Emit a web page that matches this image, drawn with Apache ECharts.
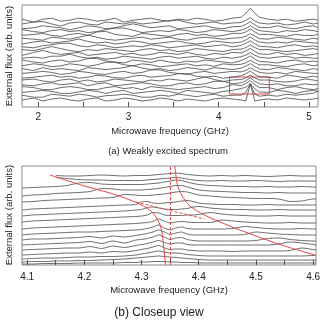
<!DOCTYPE html>
<html>
<head>
<meta charset="utf-8">
<script src="https://cdn.jsdelivr.net/npm/echarts@6/dist/echarts.min.js"></script>
<style>
  html, body { margin: 0; padding: 0; background: #fff; }
  #chart { width: 324px; height: 323px; }
</style>
</head>
<body>
<div id="chart"></div>
<script>
// ---- (a) weakly excited spectrum: frequency grid (GHz) ----
const freqA = [1.82, 1.95, 2.05, 2.15, 2.25, 2.35, 2.45, 2.55, 2.65, 2.75, 2.85, 2.95,
  3.05, 3.15, 3.25, 3.35, 3.45, 3.55, 3.65, 3.75, 3.85, 3.95, 4.05, 4.15, 4.25, 4.30,
  4.35, 4.40, 4.45, 4.55, 4.65, 4.75, 4.85, 4.95, 5.05, 5.1];

// flux offset of each trace (arb. units), bottom trace first
const fluxOffsetA = [7, 10.8, 14.6, 18.4, 22.2, 26, 29.8, 33.6, 37.4, 41.2, 45, 48.8,
  52.6, 56.4, 60.2, 64, 67.8, 71.6, 75.4, 79.2, 83, 86.8];

// response of each trace relative to its offset
const responseA = [
  [0,2,-1,1,2,0,-1,1,2,-1,0,2,1,-1,0,2,1,-1,1,0,-1,1,2,1, 0,-1,16,-1,0, 1,0,2,1,0,1,2],
  [1,-1,-1,2,1,0,2,1,-1,0.5,1,2,1,-1,-1,1,0,2,1,-0.5,1,2,0,1, 1,4,12,2,0, 1,0,2,1,2,3,5],
  [0,1,2,1,-1,-1,0.5,2,1,-1,1,2,-1,0,1,2,1,-1,2,1,0,-1,1,2, 4,5,9,3.5,0.5, 0,2,1,-1,1,2,1],
  [2,1,-1,-1,1,2,1,-1,-1,1,2,0,1,-1,2,1,0,-1,0,1,2,0,1,4, 3,5,8,4,1, 1,-1,1,2,0,-1,0],
  [0,-1,1,2,0,1,2,-1,1,2,-1,0,1,2,1,-1,-1,1,2,0,1,3.5,3.5,1, 2,4,7,3.5,1, 0,1,-1,-1,1,0,0.5],
  [1,2,0,-1,1,2,-0.5,1,-1,0,2,1,0,-1,1,0,2,1,0,2,4,1.5,-0.5,1, 1.5,3,6,3,1, 1,-0.5,-1,0,2,1,0],
  [-1,0,1,2,0,1,-1,0,2,1,-0.5,-1,1,2,0,1,1.5,3.5,3.5,1,0,1,-1,0, 1.5,3.5,6,3,0.5, 0,-1,2,1,-0.5,1,0],
  [0,1,2,1,-1,0,2,1,-0.5,-1,1,2,0,1,3.5,3.5,1,0,-1,1,2,0,1,2, 1.5,3,5.5,3,1, 0,1,-0.5,2,1,0,0],
  [1,-1,2,0,1,0,-1,2,1,0,1,2,4,1.5,0,1,-1,0,2,1,-0.5,2,1,0, 1.5,3.5,6,3,0.5, 0,2,1,0,-1,1,0],
  [0,2,1,-1,0,2,1,-0.5,1,3.5,3.5,1,0,2,1,-1,0,1,2,0,1,-0.5,2,1, 1.5,3,5.5,3,1, 1,0,-1,1,2,0,1],
  [2,0,-1,1,2,0,1,3.5,3.5,1,0,-1,2,1,-0.5,2,0,-1,1,0,2,1,0,-1, 1.5,3.5,6,3,0.5, 0,-1,1,2,0,1,0],
  [0,1,0,2,2,4,1.5,0,1,-1,0,2,1,0,-1,1,2,0,1,2,0,-1,1,0, 1.5,3,5.5,3,1, 0,1,2,0,1,0,0],
  [-1,2,4,1.5,0,1,2,-1,0,1,2,0,1,-1,0,2,1,0,2,0,-1,1,0,2, 1.5,3.5,6,3,0.5, 0,2,0,1,-1,0,1],
  [1,0,2,4,2,0,-1,1,0,2,1,0,-1,1,2,0,1,-1,0,2,1,0,-1,1, 1.5,3,5.5,3,1, 1,0,-1,0,1,2,1],
  [0,-1,1,2,3.5,3.5,1,0,2,1,-1,0,1,0,2,1,-1,0,1,2,0,1,2,0, 1.5,3.5,6,3,0.5, 0,-1,1,2,0,1,0],
  [-1,1,2,0,1,2,4,1.5,0,1,-1,0,2,1,-1,0,1,2,0,-1,0,2,1,0, 1,3,6,3,1, 0,1,0,2,1,0,0],
  [1,0,-1,2,1,0,2,4,2,0,-1,0,1,2,0,1,2,0,-1,1,2,1,0,1, 1.5,3,5.5,3,0.5, 0,2,1,0,-1,1,0],
  [0,1,2,0,-1,1,2,0,3.5,4,1,0,-1,2,1,0,-1,1,2,0,1,-1,0,2, 2,3.5,6.5,3.5,1, 1,0,-1,1,0,0,1],
  [2,0,-1,1,2,0,1,-1,0,2,3.5,3.5,1.5,-1,0,1,0,2,1,-1,0,2,1,0, 1.5,3,6,3,1, 0,-1,1,0,2,1,0],
  [-1,0,2,1,0,-2,0,2,1,-1,0,2,4,2,0,1,2,-1,0,1,2,0,-1,1, 1.5,3.5,6,3,0.5, 0,2,0,-1,1,2,0],
  [0,2,2.5,0,-2,1,2,0,-1,2,1,0,2,0,1,2,3.5,4,1.5,0,1,2,0,1, 1.5,3.5,6.5,3,1, 0,1,-1,0,2,0,1],
  [1,-2,1,2,-1,0,2,1,-1,0,2,-2,0,1,2,0,-1,1,0,2,1,-1,0,2, 3,7,12,7,3, 1,0,1,-1,0,1,0]
];

// closeup region marked in panel (a)
const closeupFreqRange = [4.12, 4.56];
const closeupFluxRange = [13, 30];

// ---- (b) closeup view ----
const freqB = [4.091, 4.11, 4.13, 4.15, 4.17, 4.19, 4.21, 4.23, 4.25, 4.27, 4.29, 4.30,
  4.31, 4.32, 4.33, 4.34, 4.35, 4.36, 4.37, 4.38, 4.39, 4.40, 4.42, 4.44, 4.46, 4.48,
  4.50, 4.52, 4.54, 4.56, 4.58, 4.60, 4.605];

// traces (arb. units), bottom trace first
const tracesB = [
  [1,1,1.5,1.5,1.5,2,2,2,2,2.5,2.5,3,3,3.5,3.5,3.5,3,3,2.5,2.5,2.5,2,2,2,2,2,2,2,2,2,2,2,2],
  [3,3.5,3.5,4,4,4.5,4.5,5,5.5,6,7,7.5,8,8.5,9,8.5,8,7.5,7,6.5,6,5.5,5,5,5,5,5,5,5,5,5,5,5],
  [6,6.5,7,7,7.5,8,8,8.5,8.5,9,10,11,12,13,14,13,12,12,11.5,10.5,10,9.5,9,9,9,9,9,9,9,9,9,9.5,9.5],
  [10,10.5,11,11.5,12,12,13,12,13.5,13,14.5,15.5,16.5,18,19.5,17,15.5,16,16,15,14.5,14,14,14,13.5,14,14,14,14,14.5,17,15.5,15],
  [15,15.5,16,16.5,17,17,18.5,16.5,19,17.5,19.5,20.5,21.5,23,24.5,22.5,21,22,22,20.5,20,20,20,20,20,20,20,20,21,23,22,20.5,20],
  [20,20.5,21,21.5,22,22.5,23.5,21.5,24,22,25,25.5,26.5,28,30,28,25.5,27,27.5,25.5,24.5,24,24,24,24,24,24.5,26.5,27,25.5,24.5,24,24],
  [25,26,26,26.5,27,27.5,28.5,27,29,28,29.5,30.5,31.5,33,35,33,30.5,32,33,31,30,30,30,30,30,30.5,33,32,31,30.5,30,30,30],
  [30,31,31.5,32,32.5,33,33,33.5,34,34.5,35,35.5,36.5,38,40,37,35,37,38,36.5,36,36,36,36,36.5,38.5,37.5,36.5,36,36,36.5,36,36],
  [36,37,37.5,38,38.5,39,39.5,40,40.5,41,41.5,42,42.5,43.5,46,44,42,43,43.5,43,42.5,42.5,42.5,45,44,43,42.5,42,42,42.5,42,42,42],
  [43,44,44.5,45,45.5,46,46.5,47,47.5,48,48.5,49,50,52.5,52,50,49.5,49.5,49.5,50,50,50.5,52.5,51,50,49.5,49,49,49.5,49,49,49,49],
  [49,50,50.5,51,51.5,52,52.5,53,53.5,54,55,55.5,57.5,58,57,56,55.5,55.5,56,56.5,58,58.5,57,56,55.5,55.5,55,55,55.5,55,55,55,55],
  [55,56,56.5,57,57.5,58,58.5,59,59.5,60,60.5,63,63.5,62,61.5,62,62.5,63,64,64.5,63.5,62,61,60.5,60.5,60,60,60.5,60,60,60,60,60],
  [63,63.5,64.5,65,65.5,66,66.5,67,67.5,70.5,70,69.5,69.5,70,70.5,71,72,73,73.5,73,71.5,70,69,68,67.5,67,66.5,66.5,66,63.5,64,66,66],
  [69,70,70.5,71.5,72,72.5,73.5,76.5,76,75,75,75,75.5,76,76.5,77.5,78.5,79.5,79.5,78,76.5,75,74,73.5,73,72.5,72.5,72,72.5,72,72,72,72],
  [77,77.5,78,78.5,79.5,82,82.5,81,80.5,80.5,80.5,80.5,81,81.5,82,83,84,85,84.5,83,81.5,80.5,79.5,79,78.5,78.5,78,78.5,78,78,78.5,78,78],
  [null,null,null,87.5,86.5,85.5,85,85,84.5,84.5,84.5,84.5,85,85.5,86,86.5,87,87.5,87,86,85,84.5,84,84.5,84,84,84.5,84,83.5,84,84,84,84],
  [null,null,null,89.5,89,89,89.5,90,89.5,89,89.5,89.5,89.5,90,90.5,91,91.5,92,91.5,90.5,90,89.5,89,89.5,89,89.5,89,88.5,89,89.5,89,89,89]
];

// fitted branches of the avoided crossing: [frequency (GHz), flux]
const lowerBranch = [[4.14,90],[4.20,79],[4.245,72],[4.28,65],[4.303,59],[4.32,52],[4.333,39],[4.338,22],[4.341,5],[4.342,0]];
const upperBranch = [[4.358,99],[4.36,90],[4.362,82],[4.366,75],[4.371,69],[4.385,59],[4.41,50],[4.45,40],[4.50,29],[4.55,19],[4.603,10]];
const linearMode = [[4.29,63],[4.41,46]];
const resonatorFreq = 4.352;

// tick values
const ticksA = [2, 2.5, 3, 3.5, 4, 4.5, 5];
const labelsA = [2, 3, 4, 5];
const ticksB = [4.1, 4.15, 4.2, 4.25, 4.3, 4.35, 4.4, 4.45, 4.5, 4.55, 4.6];
const labelsB = [4.1, 4.2, 4.3, 4.4, 4.5, 4.6];

const FONT = '"Liberation Sans", Arial, Helvetica, sans-serif';
const TRACE = { color: '#484848', width: 0.8 };
const RED = '#e2484a';

const series = [];
responseA.forEach((row, k) => {
  series.push({
    type: 'line', xAxisIndex: 0, yAxisIndex: 0, symbol: 'none', silent: true,
    lineStyle: TRACE,
    data: freqA.map((f, i) => [f, fluxOffsetA[k] + row[i]])
  });
});
// closeup box
series.push({
  type: 'line', xAxisIndex: 0, yAxisIndex: 0, symbol: 'none', silent: true, data: [],
  markArea: {
    silent: true,
    itemStyle: { color: 'rgba(0,0,0,0)', borderColor: RED, borderWidth: 1 },
    data: [[{ xAxis: closeupFreqRange[0], yAxis: closeupFluxRange[0] },
            { xAxis: closeupFreqRange[1], yAxis: closeupFluxRange[1] }]]
  }
});
tracesB.forEach(row => {
  series.push({
    type: 'line', xAxisIndex: 1, yAxisIndex: 1, symbol: 'none', silent: true,
    smooth: 0.25, connectNulls: false,
    lineStyle: TRACE,
    data: freqB.map((f, i) => [f, row[i]])
  });
});
series.push({
  type: 'line', xAxisIndex: 1, yAxisIndex: 1, symbol: 'none', silent: true, smooth: 0.35,
  lineStyle: { color: RED, width: 1 }, data: lowerBranch
});
series.push({
  type: 'line', xAxisIndex: 1, yAxisIndex: 1, symbol: 'none', silent: true, smooth: 0.35,
  lineStyle: { color: RED, width: 1 }, data: upperBranch
});
series.push({
  type: 'line', xAxisIndex: 1, yAxisIndex: 1, symbol: 'none', silent: true,
  lineStyle: { color: RED, width: 1, type: [3, 2] }, data: linearMode,
  markLine: {
    silent: true, symbol: 'none', label: { show: false },
    lineStyle: { color: RED, width: 1, type: [3, 2] },
    data: [{ xAxis: resonatorFreq }]
  }
});

function xAxisOf(grid, min, max, ticks, labels, margin, nameGap) {
  return {
    type: 'value', gridIndex: grid, min, max,
    axisLine: { show: false },
    splitLine: { show: false },
    axisTick: { show: true, inside: true, length: 5, customValues: ticks,
      lineStyle: { color: '#555', width: 1 } },
    axisLabel: { customValues: labels, fontSize: 10, color: '#222', fontFamily: FONT, margin },
    name: 'Microwave frequency (GHz)', nameLocation: 'middle', nameGap,
    nameTextStyle: { fontSize: 9.5, color: '#222', fontFamily: FONT }
  };
}
function yAxisOf(grid, max) {
  return {
    type: 'value', gridIndex: grid, min: 0, max,
    axisLine: { show: false }, axisTick: { show: false },
    axisLabel: { show: false }, splitLine: { show: false }
  };
}

const option = {
  animation: false,
  backgroundColor: '#fff',
  grid: [
    { left: 22, top: 5, width: 296, height: 102, show: true, borderColor: '#8a8a8a', borderWidth: 1 },
    { left: 22, top: 166, width: 294, height: 99, show: true, borderColor: '#8a8a8a', borderWidth: 1 }
  ],
  xAxis: [
    xAxisOf(0, 1.82, 5.1, ticksA, labelsA, 5, 19),
    xAxisOf(1, 4.091, 4.605, ticksB, labelsB, 7, 20)
  ],
  yAxis: [yAxisOf(0, 102), yAxisOf(1, 99)],
  graphic: [
    { type: 'text', x: 9, y: 56, rotation: Math.PI / 2, silent: true,
      style: { text: 'External flux (arb. units)', font: '9.5px ' + FONT, fill: '#222',
        textAlign: 'center', textVerticalAlign: 'middle' } },
    { type: 'text', x: 9, y: 215, rotation: Math.PI / 2, silent: true,
      style: { text: 'External flux (arb. units)', font: '9.5px ' + FONT, fill: '#222',
        textAlign: 'center', textVerticalAlign: 'middle' } },
    { type: 'text', x: 168, y: 151, silent: true,
      style: { text: '(a) Weakly excited spectrum', font: '9.5px ' + FONT, fill: '#222',
        textAlign: 'center', textVerticalAlign: 'middle' } },
    { type: 'text', x: 159, y: 313, silent: true,
      style: { text: '(b) Closeup view', font: '12px ' + FONT, fill: '#222',
        textAlign: 'center', textVerticalAlign: 'middle' } }
  ],
  series
};

const chart = echarts.init(document.getElementById('chart'), null, { renderer: 'canvas' });
chart.setOption(option);
</script>
</body>
</html>
